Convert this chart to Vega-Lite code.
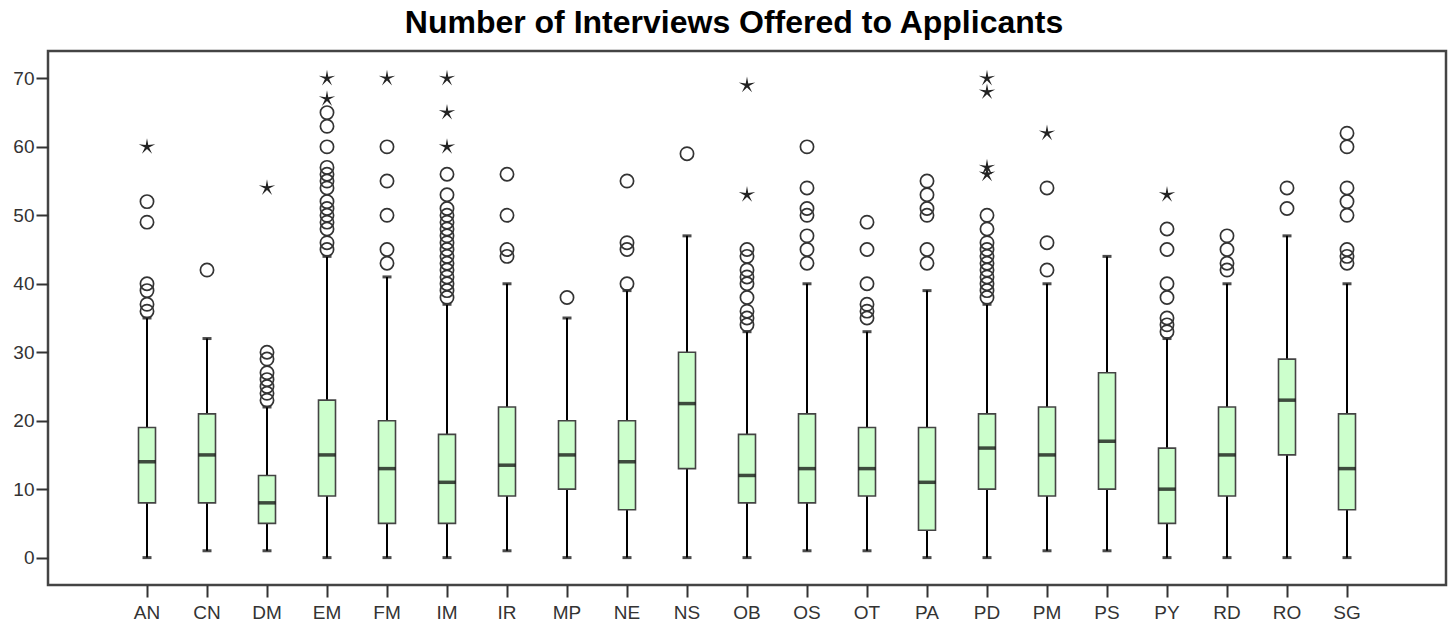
{
  "$schema": "https://vega.github.io/schema/vega-lite/v6.json",
  "autosize": {"type": "none"},
  "padding": {"left": 48, "top": 51, "right": 7, "bottom": 40},
  "width": 1398,
  "height": 534,
  "title": {
    "text": "Number of Interviews Offered to Applicants",
    "font": "Liberation Sans",
    "fontSize": 32,
    "fontWeight": "bold",
    "color": "#000000",
    "anchor": "middle",
    "frame": "group",
    "offset": 11,
    "dx": -13
  },
  "config": {
    "view": {"stroke": "#444444", "strokeWidth": 2.5},
    "axis": {
      "labelFont": "Liberation Sans",
      "labelFontSize": 19,
      "labelColor": "#333333",
      "tickColor": "#333333",
      "tickWidth": 2,
      "tickSize": 12,
      "domain": false,
      "grid": false,
      "title": null
    }
  },
  "datasets": {
    "boxes": [
      {"cat": "AN", "lo": 0, "q1": 8, "med": 14, "q3": 19, "hi": 35},
      {"cat": "CN", "lo": 1, "q1": 8, "med": 15, "q3": 21, "hi": 32},
      {"cat": "DM", "lo": 1, "q1": 5, "med": 8, "q3": 12, "hi": 22},
      {"cat": "EM", "lo": 0, "q1": 9, "med": 15, "q3": 23, "hi": 44},
      {"cat": "FM", "lo": 0, "q1": 5, "med": 13, "q3": 20, "hi": 41},
      {"cat": "IM", "lo": 0, "q1": 5, "med": 11, "q3": 18, "hi": 37},
      {"cat": "IR", "lo": 1, "q1": 9, "med": 13.5, "q3": 22, "hi": 40},
      {"cat": "MP", "lo": 0, "q1": 10, "med": 15, "q3": 20, "hi": 35},
      {"cat": "NE", "lo": 0, "q1": 7, "med": 14, "q3": 20, "hi": 39},
      {"cat": "NS", "lo": 0, "q1": 13, "med": 22.5, "q3": 30, "hi": 47},
      {"cat": "OB", "lo": 0, "q1": 8, "med": 12, "q3": 18, "hi": 33},
      {"cat": "OS", "lo": 1, "q1": 8, "med": 13, "q3": 21, "hi": 40},
      {"cat": "OT", "lo": 1, "q1": 9, "med": 13, "q3": 19, "hi": 33},
      {"cat": "PA", "lo": 0, "q1": 4, "med": 11, "q3": 19, "hi": 39},
      {"cat": "PD", "lo": 0, "q1": 10, "med": 16, "q3": 21, "hi": 37},
      {"cat": "PM", "lo": 1, "q1": 9, "med": 15, "q3": 22, "hi": 40},
      {"cat": "PS", "lo": 1, "q1": 10, "med": 17, "q3": 27, "hi": 44},
      {"cat": "PY", "lo": 0, "q1": 5, "med": 10, "q3": 16, "hi": 32},
      {"cat": "RD", "lo": 0, "q1": 9, "med": 15, "q3": 22, "hi": 40},
      {"cat": "RO", "lo": 0, "q1": 15, "med": 23, "q3": 29, "hi": 47},
      {"cat": "SG", "lo": 0, "q1": 7, "med": 13, "q3": 21, "hi": 40}
    ],
    "outliers": [
      {"cat": "AN", "v": 36}, {"cat": "AN", "v": 37}, {"cat": "AN", "v": 39}, {"cat": "AN", "v": 40}, {"cat": "AN", "v": 49}, {"cat": "AN", "v": 52},
      {"cat": "CN", "v": 42},
      {"cat": "DM", "v": 23}, {"cat": "DM", "v": 24}, {"cat": "DM", "v": 25}, {"cat": "DM", "v": 26}, {"cat": "DM", "v": 27}, {"cat": "DM", "v": 29}, {"cat": "DM", "v": 30},
      {"cat": "EM", "v": 45}, {"cat": "EM", "v": 46}, {"cat": "EM", "v": 48}, {"cat": "EM", "v": 49}, {"cat": "EM", "v": 50}, {"cat": "EM", "v": 51}, {"cat": "EM", "v": 52}, {"cat": "EM", "v": 54}, {"cat": "EM", "v": 55}, {"cat": "EM", "v": 56}, {"cat": "EM", "v": 57}, {"cat": "EM", "v": 60}, {"cat": "EM", "v": 63}, {"cat": "EM", "v": 65},
      {"cat": "FM", "v": 43}, {"cat": "FM", "v": 45}, {"cat": "FM", "v": 50}, {"cat": "FM", "v": 55}, {"cat": "FM", "v": 60},
      {"cat": "IM", "v": 38}, {"cat": "IM", "v": 39}, {"cat": "IM", "v": 40}, {"cat": "IM", "v": 41}, {"cat": "IM", "v": 42}, {"cat": "IM", "v": 43}, {"cat": "IM", "v": 44}, {"cat": "IM", "v": 45}, {"cat": "IM", "v": 46}, {"cat": "IM", "v": 47}, {"cat": "IM", "v": 48}, {"cat": "IM", "v": 49}, {"cat": "IM", "v": 50}, {"cat": "IM", "v": 51}, {"cat": "IM", "v": 53}, {"cat": "IM", "v": 56},
      {"cat": "IR", "v": 44}, {"cat": "IR", "v": 45}, {"cat": "IR", "v": 50}, {"cat": "IR", "v": 56},
      {"cat": "MP", "v": 38},
      {"cat": "NE", "v": 40}, {"cat": "NE", "v": 45}, {"cat": "NE", "v": 46}, {"cat": "NE", "v": 55},
      {"cat": "NS", "v": 59},
      {"cat": "OB", "v": 34}, {"cat": "OB", "v": 35}, {"cat": "OB", "v": 36}, {"cat": "OB", "v": 38}, {"cat": "OB", "v": 40}, {"cat": "OB", "v": 41}, {"cat": "OB", "v": 42}, {"cat": "OB", "v": 44}, {"cat": "OB", "v": 45},
      {"cat": "OS", "v": 43}, {"cat": "OS", "v": 45}, {"cat": "OS", "v": 47}, {"cat": "OS", "v": 50}, {"cat": "OS", "v": 51}, {"cat": "OS", "v": 54}, {"cat": "OS", "v": 60},
      {"cat": "OT", "v": 35}, {"cat": "OT", "v": 36}, {"cat": "OT", "v": 37}, {"cat": "OT", "v": 40}, {"cat": "OT", "v": 45}, {"cat": "OT", "v": 49},
      {"cat": "PA", "v": 43}, {"cat": "PA", "v": 45}, {"cat": "PA", "v": 50}, {"cat": "PA", "v": 51}, {"cat": "PA", "v": 53}, {"cat": "PA", "v": 55},
      {"cat": "PD", "v": 38}, {"cat": "PD", "v": 39}, {"cat": "PD", "v": 40}, {"cat": "PD", "v": 41}, {"cat": "PD", "v": 42}, {"cat": "PD", "v": 43}, {"cat": "PD", "v": 44}, {"cat": "PD", "v": 45}, {"cat": "PD", "v": 46}, {"cat": "PD", "v": 48}, {"cat": "PD", "v": 50},
      {"cat": "PM", "v": 42}, {"cat": "PM", "v": 46}, {"cat": "PM", "v": 54},
      {"cat": "PY", "v": 33}, {"cat": "PY", "v": 34}, {"cat": "PY", "v": 35}, {"cat": "PY", "v": 38}, {"cat": "PY", "v": 40}, {"cat": "PY", "v": 45}, {"cat": "PY", "v": 48},
      {"cat": "RD", "v": 42}, {"cat": "RD", "v": 43}, {"cat": "RD", "v": 45}, {"cat": "RD", "v": 47},
      {"cat": "RO", "v": 51}, {"cat": "RO", "v": 54},
      {"cat": "SG", "v": 43}, {"cat": "SG", "v": 44}, {"cat": "SG", "v": 45}, {"cat": "SG", "v": 50}, {"cat": "SG", "v": 52}, {"cat": "SG", "v": 54}, {"cat": "SG", "v": 60}, {"cat": "SG", "v": 62}
    ],
    "extremes": [
      {"cat": "AN", "v": 60},
      {"cat": "DM", "v": 54},
      {"cat": "EM", "v": 67}, {"cat": "EM", "v": 70},
      {"cat": "FM", "v": 70},
      {"cat": "IM", "v": 60}, {"cat": "IM", "v": 65}, {"cat": "IM", "v": 70},
      {"cat": "OB", "v": 53}, {"cat": "OB", "v": 69},
      {"cat": "PD", "v": 56}, {"cat": "PD", "v": 57}, {"cat": "PD", "v": 68}, {"cat": "PD", "v": 70},
      {"cat": "PM", "v": 62},
      {"cat": "PY", "v": 53}
    ]
  },
  "encoding": {
    "x": {
      "field": "cat",
      "type": "nominal",
      "sort": null,
      "scale": {"type": "band", "paddingInner": 0, "paddingOuter": 0, "range": [69, 1329]},
      "axis": {"labelAngle": 0, "labelPadding": 6}
    }
  },
  "layer": [
    {
      "data": {"name": "boxes"},
      "mark": {"type": "rule", "color": "#000000", "strokeWidth": 2},
      "encoding": {
        "y": {"field": "lo", "type": "quantitative", "scale": {"domain": [-4, 74], "nice": false, "zero": false}, "axis": {"values": [0, 10, 20, 30, 40, 50, 60, 70], "labelPadding": 2}},
        "y2": {"field": "hi"}
      }
    },
    {
      "data": {"name": "boxes"},
      "mark": {"type": "tick", "color": "#000000", "size": 9, "thickness": 3},
      "encoding": {"y": {"field": "lo", "type": "quantitative"}}
    },
    {
      "data": {"name": "boxes"},
      "mark": {"type": "tick", "color": "#000000", "size": 9, "thickness": 3},
      "encoding": {"y": {"field": "hi", "type": "quantitative"}}
    },
    {
      "data": {"name": "boxes"},
      "mark": {"type": "bar", "width": 17, "fill": "#ccffcc", "stroke": "#444444", "strokeWidth": 1.6},
      "encoding": {
        "y": {"field": "q1", "type": "quantitative"},
        "y2": {"field": "q3"}
      }
    },
    {
      "data": {"name": "boxes"},
      "mark": {"type": "tick", "color": "#000000", "size": 17, "thickness": 3.5},
      "encoding": {"y": {"field": "med", "type": "quantitative"}}
    },
    {
      "data": {"name": "outliers"},
      "mark": {"type": "point", "shape": "circle", "filled": false, "size": 175, "stroke": "#333333", "strokeWidth": 1.7, "opacity": 1},
      "encoding": {"y": {"field": "v", "type": "quantitative"}}
    },
    {
      "data": {"name": "extremes"},
      "mark": {"type": "point", "shape": "M0,-1L0.147,-0.202L0.951,-0.309L0.238,0.077L0.588,0.809L0,0.25L-0.588,0.809L-0.238,0.077L-0.951,-0.309L-0.147,-0.202Z", "filled": true, "size": 300, "fill": "#222222", "opacity": 1},
      "encoding": {"y": {"field": "v", "type": "quantitative"}}
    }
  ]
}
